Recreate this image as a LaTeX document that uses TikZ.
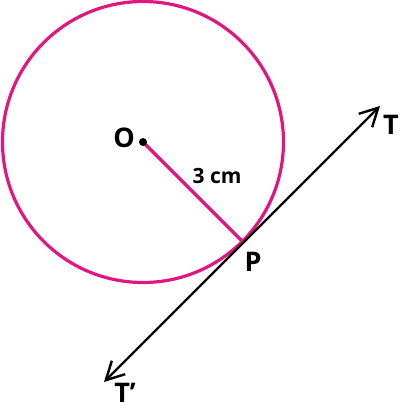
\documentclass[tikz,border=0pt]{standalone}
\usepackage{fontspec}
\setmainfont{Open Sans}
\usetikzlibrary{arrows.meta}
\definecolor{pinkc}{RGB}{226,22,128}
\begin{document}
\begin{tikzpicture}[x=1pt,y=1pt,
  lbl/.style={inner sep=0pt,font=\fontsize{27}{30}\selectfont\bfseries},
  small/.style={inner sep=0pt,font=\fontsize{21}{24}\selectfont\bfseries},
  pinkline/.style={draw=pinkc,line width=3.2pt},
  barb/.style={Straight Barb[length=18pt,width=19pt,line width=2.4pt]},
  tangent/.style={draw=black,line width=2.4pt,{Straight Barb[length=18pt,width=19pt,line width=2.4pt]}-{Straight Barb[length=18pt,width=19pt,line width=2.4pt]}}]
\useasboundingbox (0,0) rectangle (400,408);
\coordinate (Oc) at (143,266);
\coordinate (P) at (242.7,166.3);
\coordinate (T) at (380,302);
\coordinate (Tp) at (104,26);
\draw[pinkline] (Oc) circle (140.5);
\draw[pinkline] (Oc) -- (P);
\draw[tangent] (Tp) -- (T);
\node[circle,fill=black,inner sep=0pt,minimum size=8pt] (O) at (Oc) {};
\node[lbl] (Ol) at (124,270) {O};
\node[small] (r) at (217,232) {3 cm};
\node[lbl] (Pl) at (253,146) {P};
\node[lbl] (Tl) at (391,283) {T};
\node[lbl] (Tpl) at (125,15) {T’};
\end{tikzpicture}
\end{document}
